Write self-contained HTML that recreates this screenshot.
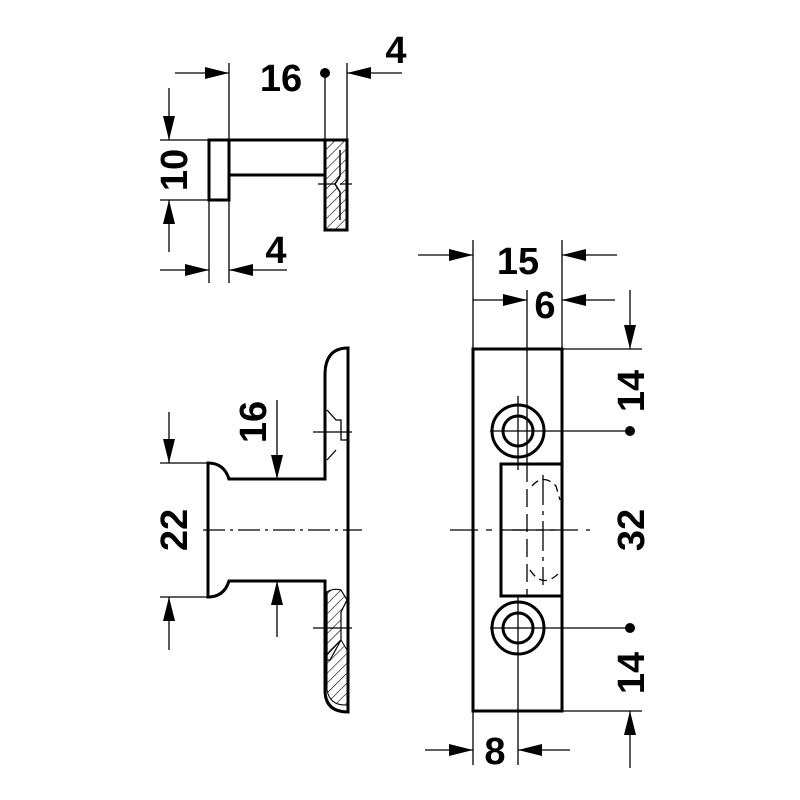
<!DOCTYPE html>
<html><head><meta charset="utf-8"><style>html,body{margin:0;padding:0;background:#fff}svg{display:block}</style></head>
<body>
<svg width="800" height="800" viewBox="0 0 800 800" xmlns="http://www.w3.org/2000/svg">
<defs>
<marker id="a" viewBox="0 0 24 12" refX="24" refY="6" markerWidth="24" markerHeight="12" markerUnits="userSpaceOnUse" orient="auto"><path d="M0,0 L24,6 L0,12 Z" fill="#000"/></marker>
<pattern id="h" width="7" height="7" patternUnits="userSpaceOnUse" patternTransform="rotate(45)"><line x1="0" y1="0" x2="0" y2="7" stroke="#000" stroke-width="1.2"/></pattern>
</defs>
<g font-family="Liberation Sans, sans-serif" font-weight="bold" font-size="38" fill="#000" text-anchor="middle">
<text x="281" y="91">16</text>
<text x="396" y="63">4</text>
<text x="276" y="263">4</text>
<text transform="translate(187,170) rotate(-90)">10</text>
<text transform="translate(187,530) rotate(-90)">22</text>
<text transform="translate(266,422) rotate(-90)">16</text>
<text x="518" y="274">15</text>
<text x="545" y="318">6</text>
<text x="495" y="764">8</text>
<text transform="translate(644,391) rotate(-90)">14</text>
<text transform="translate(644,530) rotate(-90)">32</text>
<text transform="translate(644,673) rotate(-90)">14</text>
</g>
<g stroke="#000" stroke-width="1.3" fill="none">
<line x1="209" y1="140" x2="209" y2="283"/>
<line x1="229" y1="63" x2="229" y2="283"/>
<line x1="325" y1="73" x2="325" y2="140"/>
<line x1="347" y1="63" x2="347" y2="140"/>
<line x1="175" y1="73" x2="229" y2="73" marker-end="url(#a)"/>
<line x1="402" y1="73" x2="347" y2="73" marker-end="url(#a)"/>
<line x1="160" y1="140" x2="209" y2="140"/>
<line x1="160" y1="200" x2="209" y2="200"/>
<line x1="169" y1="88" x2="169" y2="140" marker-end="url(#a)"/>
<line x1="169" y1="252" x2="169" y2="200" marker-end="url(#a)"/>
<line x1="160" y1="270" x2="209" y2="270" marker-end="url(#a)"/>
<line x1="287" y1="270" x2="229" y2="270" marker-end="url(#a)"/>
<line x1="318" y1="184" x2="352" y2="184"/>
<line x1="160" y1="463" x2="208" y2="463"/>
<line x1="160" y1="597" x2="208" y2="597"/>
<line x1="169" y1="412" x2="169" y2="463" marker-end="url(#a)"/>
<line x1="169" y1="650" x2="169" y2="597" marker-end="url(#a)"/>
<line x1="277" y1="400" x2="277" y2="479" marker-end="url(#a)"/>
<line x1="277" y1="637" x2="277" y2="581" marker-end="url(#a)"/>
<line x1="203" y1="530" x2="362" y2="530" stroke-dasharray="22,5,3,5"/>
<line x1="313" y1="432" x2="352" y2="432"/>
<line x1="313" y1="628" x2="352" y2="628"/>
<line x1="473" y1="240" x2="473" y2="349"/>
<line x1="562" y1="240" x2="562" y2="349"/>
<line x1="527" y1="290" x2="527" y2="464"/>
<line x1="418" y1="255" x2="473" y2="255" marker-end="url(#a)"/>
<line x1="617" y1="255" x2="562" y2="255" marker-end="url(#a)"/>
<line x1="473" y1="300" x2="527" y2="300" marker-end="url(#a)"/>
<line x1="615" y1="300" x2="562" y2="300" marker-end="url(#a)"/>
<line x1="562" y1="349" x2="642" y2="349"/>
<line x1="562" y1="711" x2="642" y2="711"/>
<line x1="630" y1="290" x2="630" y2="349" marker-end="url(#a)"/>
<line x1="630" y1="768" x2="630" y2="711" marker-end="url(#a)"/>
<line x1="490" y1="431" x2="630" y2="431"/>
<line x1="490" y1="628" x2="630" y2="628"/>
<line x1="473" y1="711" x2="473" y2="765"/>
<line x1="518" y1="596" x2="518" y2="765"/>
<line x1="425" y1="750" x2="473" y2="750" marker-end="url(#a)"/>
<line x1="570" y1="750" x2="518" y2="750" marker-end="url(#a)"/>
<line x1="518" y1="396" x2="518" y2="470"/>
<line x1="450" y1="530" x2="590" y2="530" stroke-dasharray="28,8,6,8"/>
<line x1="527" y1="464" x2="527" y2="596" stroke-dasharray="18,7"/>
<line x1="543" y1="475" x2="543" y2="585" stroke-dasharray="30,6,4,6"/>
<path d="M532,486 Q543,473 556,486 L560,500 M530,570 Q543,590 560,572" stroke-dasharray="8,5"/>
<line x1="512" y1="530" x2="555" y2="530"/>
</g>
<g fill="#000">
<circle cx="325" cy="73" r="5"/>
<circle cx="630" cy="431" r="5"/>
<circle cx="630" cy="628" r="5"/>
</g>
<g stroke="#000" stroke-width="3" fill="none">
<rect x="209" y="140" width="20" height="60"/>
<path d="M229,140 H325 M229,175 H325"/>
<rect x="325" y="140" width="22" height="90" fill="url(#h)"/>
<path d="M340,150 L340,176 L335,184 L340,192 L340,220" stroke-width="1.5" fill="#fff"/>
<path d="M208,463 V597 Q224,597 229,581 H325 V690 Q325,712 348,712 V348 Q325,348 325,375 V479 H229 Q224,463 208,463 Z"/>
<path d="M327,592 Q333,588 341,590 L347,600 L341,612 V640 L330,660 L327,660 Z" fill="url(#h)" stroke-width="1.2"/>
<path d="M327,655 L341,640 L347,650 V705 Q330,706 327,690 Z" fill="url(#h)" stroke-width="1"/>
<path d="M327,410 L336,420 L341,420 V440 L348,440 M336,450 L327,460" stroke-width="1.3"/>
<rect x="473" y="349" width="89" height="362"/>
<rect x="501" y="464" width="61" height="132"/>
<circle cx="518" cy="431" r="26"/>
<circle cx="518" cy="431" r="15"/>
<circle cx="518" cy="628" r="26"/>
<circle cx="518" cy="628" r="15"/>
</g>
</svg>
</body></html>
